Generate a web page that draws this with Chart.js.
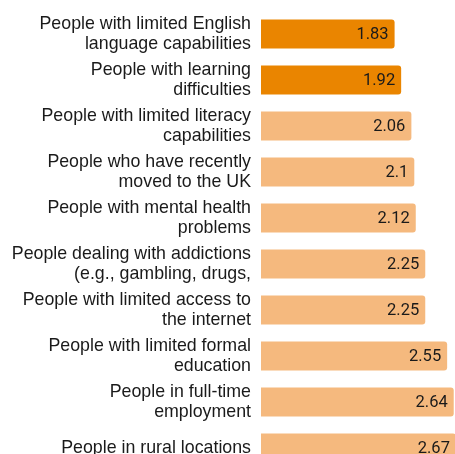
<!DOCTYPE html>
<html>
<head>
<meta charset="utf-8">
<script src="https://cdn.jsdelivr.net/npm/chart.js@4/dist/chart.umd.min.js"></script>
<style>
  html, body { margin: 0; padding: 0; background: #fff; overflow: hidden; }
  #wrap { position: relative; width: 480px; height: 471px; }
</style>
</head>
<body>
<div id="wrap"><canvas id="chart"></canvas></div>
<script>
const categories = [
  ["People with limited English", "language capabilities"],
  ["People with learning", "difficulties"],
  ["People with limited literacy", "capabilities"],
  ["People who have recently", "moved to the UK"],
  ["People with mental health", "problems"],
  ["People dealing with addictions", "(e.g., gambling, drugs,"],
  ["People with limited access to", "the internet"],
  ["People with limited formal", "education"],
  ["People in full-time", "employment"],
  "People in rural locations"
];
const scores = [1.83, 1.92, 2.06, 2.1, 2.12, 2.25, 2.25, 2.55, 2.64, 2.67];
const highlighted = [true, true, false, false, false, false, false, false, false, false];

const darkOrange = "#EA8500";
const lightOrange = "#F5B97E";

// draws the score inside the end of each bar
const valueLabels = {
  id: "valueLabels",
  afterDatasetsDraw(chart) {
    const ctx = chart.ctx;
    const meta = chart.getDatasetMeta(0);
    ctx.save();
    ctx.font = "16.5px Roboto, 'Liberation Sans', sans-serif";
    ctx.fillStyle = "#1a1a1a";
    ctx.textAlign = "right";
    ctx.textBaseline = "middle";
    meta.data.forEach((bar, i) => {
      ctx.fillText(String(scores[i]), bar.x - 6, bar.y + 1);
    });
    ctx.restore();
  }
};

new Chart(document.getElementById("chart"), {
  type: "bar",
  data: {
    labels: categories,
    datasets: [{
      data: scores,
      backgroundColor: highlighted.map(h => h ? darkOrange : lightOrange),
      borderRadius: 3,
      borderSkipped: "start",
      barPercentage: 0.9,
      categoryPercentage: 0.7
    }]
  },
  options: {
    indexAxis: "y",
    responsive: true,
    maintainAspectRatio: false,
    animation: false,
    layout: { padding: { top: 11, bottom: 0, left: 0, right: 0 } },
    plugins: {
      legend: { display: false },
      tooltip: { enabled: false }
    },
    scales: {
      x: {
        display: false,
        min: 0,
        max: 3
      },
      y: {
        afterFit(scale) {
          scale.width = 261;
          scale.paddingTop = 0;
          scale.paddingBottom = 0;
        },
        grid: { display: false, drawTicks: false },
        border: { display: false },
        ticks: {
          padding: 10,
          color: "#1a1a1a",
          font: { family: "'Liberation Sans', Arial, sans-serif", size: 17.8, lineHeight: 1.124 }
        }
      }
    }
  },
  plugins: [valueLabels]
});
</script>
</body>
</html>
